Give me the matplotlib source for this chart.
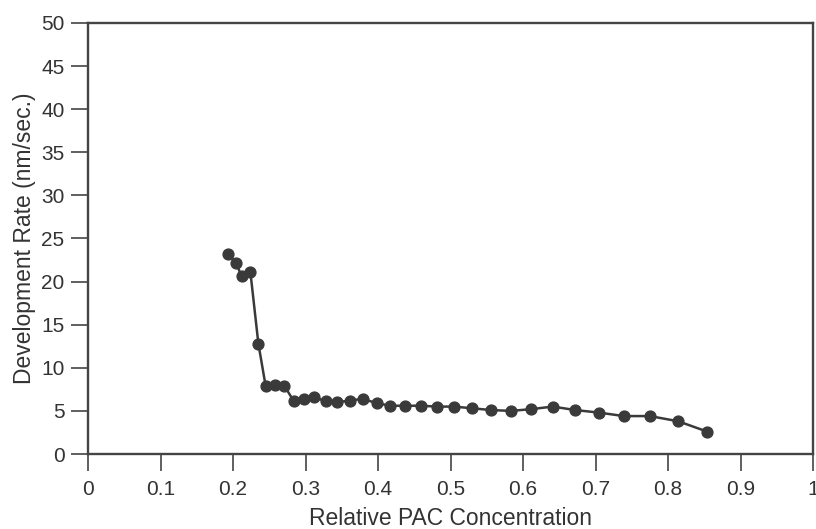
import matplotlib
matplotlib.use("Agg")
import matplotlib.pyplot as plt

plt.rcParams['font.family'] = ['Liberation Sans', 'DejaVu Sans']

# Relative PAC concentration vs development rate (nm/sec.)
pac = [0.193, 0.204, 0.212, 0.224, 0.235, 0.245, 0.258, 0.271, 0.284, 0.298,
       0.312, 0.328, 0.343, 0.361, 0.379, 0.398, 0.417, 0.437, 0.459, 0.481,
       0.505, 0.530, 0.556, 0.583, 0.611, 0.641, 0.672, 0.705, 0.739, 0.775,
       0.814, 0.854]
rate = [23.2, 22.2, 20.6, 21.1, 12.8, 7.9, 8.0, 7.9, 6.1, 6.4,
        6.6, 6.1, 6.0, 6.2, 6.4, 5.9, 5.6, 5.6, 5.6, 5.5,
        5.5, 5.3, 5.1, 5.0, 5.2, 5.5, 5.1, 4.8, 4.4, 4.4,
        3.8, 2.6]

xticks = [0, 0.1, 0.2, 0.3, 0.4, 0.5, 0.6, 0.7, 0.8, 0.9, 1]
xlabels = ['0', '0.1', '0.2', '0.3', '0.4', '0.5', '0.6', '0.7', '0.8', '0.9', '1']
yticks = list(range(0, 51, 5))

fig = plt.figure(figsize=(8.16, 5.29), dpi=100)
ax = fig.add_axes([88 / 816, (529 - 454) / 529, 725 / 816, 431 / 529])

ax.plot(pac, rate, '-', color='#3a3a3a', linewidth=1.8,
        marker='o', markersize=7.8, markerfacecolor='#3a3a3a',
        markeredgecolor='#3a3a3a')

ax.set_xlim(0, 1)
ax.set_ylim(0, 50)
ax.set_xticks(xticks)
ax.set_xticklabels(xlabels)
ax.set_yticks(yticks)

for s in ax.spines.values():
    s.set_color('#444444')
    s.set_linewidth(1.7)

ax.tick_params(direction='out', length=12, width=1.2, color='#444444',
               labelsize=15, labelcolor='#333333')
ax.tick_params(axis='x', pad=7)
ax.tick_params(axis='y', pad=5)

ax.set_xlabel('Relative PAC Concentration', fontsize=16.5, color='#333333')
ax.set_ylabel('Development Rate (nm/sec.)', fontsize=16.5, color='#333333')
ax.xaxis.set_label_coords(0.5, (454 - 507) / 431)
ax.yaxis.set_label_coords((36 - 88) / 725, 0.5)

fig.savefig('out.png', dpi=100)
